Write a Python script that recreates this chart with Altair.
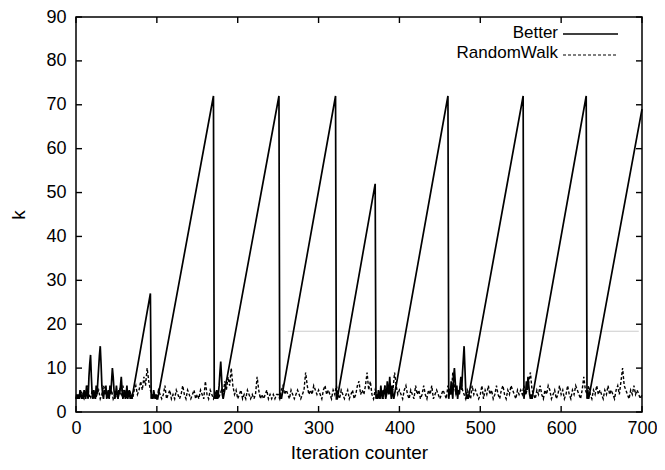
import altair as alt
import pandas as pd

# ---------------- data ----------------
series_names = ["Better", "RandomWalk"]

better_x = [
    0, 1, 2, 3, 4, 5, 6, 7, 8, 9, 10, 11, 12, 13, 14, 15, 16, 17, 18, 19,
    20, 21, 22, 23, 24, 25, 26, 27, 28, 29, 30, 31, 32, 33, 34, 35, 36, 37, 38, 39,
    40, 41, 42, 43, 44, 45, 46, 47, 48, 49, 50, 51, 52, 53, 54, 55, 56, 57, 58, 59,
    60, 61, 62, 63, 64, 65, 66, 67, 68, 69, 70,
    92, 93, 94, 95, 96, 97, 98, 99, 100, 101,
    170, 171, 172, 173, 174, 175, 176, 177, 178, 179, 180, 181, 182,
    251, 252, 253, 254,
    321, 322, 323,
    370, 371, 372, 373, 374, 375, 376, 377, 378, 379, 380, 381, 382, 383, 384, 385,
    386, 387, 388, 389, 390, 391, 392, 393,
    460, 461, 462, 463, 464, 465, 466, 467, 468, 469, 470, 471, 472, 473, 474, 475,
    476, 477, 478, 479, 480, 481, 482, 483, 484, 485,
    553, 554, 555, 556, 557, 558, 559, 560, 561, 562, 563, 564,
    631, 632, 633, 634,
    700,
]
better_k = [
    3, 4, 3, 4, 3, 5, 4, 3, 4, 3, 5, 4, 3, 6, 4, 3, 8, 11, 13, 8,
    4, 3, 5, 4, 3, 6, 4, 7, 10, 13, 15, 11, 6, 4, 3, 5, 4, 6, 3, 4,
    5, 3, 6, 4, 7, 10, 8, 5, 3, 4, 6, 4, 3, 5, 4, 6, 8, 5, 3, 4,
    5, 3, 4, 6, 3, 4, 5, 3, 4, 3, 4,
    27, 3, 4, 3, 5, 4, 3, 4, 3, 3,
    72, 3, 4, 3, 5, 3, 4, 6, 9, 11.5, 8, 4, 3,
    72, 3, 4, 3,
    72, 3, 3,
    52, 3, 4, 3, 5, 4, 3, 6, 4, 3, 5, 4, 6, 3, 4, 7,
    5, 4, 8, 5, 3, 6, 4, 3,
    72, 3, 5, 4, 7, 5, 3, 8, 10, 7, 4, 6, 3, 5, 4, 6,
    8, 5, 9, 12, 15, 10, 5, 3, 4, 3,
    72, 3, 5, 4, 7, 5, 8, 6, 4, 3, 4, 3,
    72, 3, 5, 3,
    69,
]

rw_x = list(range(0, 701, 2))
rw_k = [
    3, 4, 3, 5, 4, 3, 4, 6, 4, 3, 5, 4, 3, 4, 5, 3, 4, 6, 5, 4, 3, 4, 5, 3, 4,
    4, 3, 5, 4, 6, 4, 3, 4, 5, 4, 3, 5, 6, 4, 5, 7, 5, 8, 6, 10, 7, 5, 4, 3, 4,
    3, 5, 4, 3, 4, 6, 3, 4, 5, 3, 4, 3, 5, 4, 3, 4, 6, 4, 3, 5, 4, 3, 4, 5, 3,
    4, 3, 5, 4, 3, 7, 4, 3, 5, 4, 3, 4, 5, 3, 4, 5, 4, 7, 5, 8, 6, 10, 6, 4, 5,
    3, 4, 5, 3, 4, 3, 5, 4, 3, 4, 3, 4, 8, 5, 3, 4, 3, 4, 5, 3, 4, 3, 4, 3, 4,
    4, 3, 5, 6, 4, 5, 4, 3, 5, 4, 3, 4, 5, 4, 3, 4, 5, 9, 6, 4, 5, 4, 6, 5, 4,
    5, 4, 3, 5, 6, 4, 5, 4, 3, 5, 4, 6, 4, 3, 5, 4, 3, 4, 5, 3, 4, 5, 3, 4, 6,
    7, 4, 5, 4, 6, 9, 5, 7, 4, 3, 5, 4, 3, 4, 5, 3, 6, 4, 5, 4, 6, 5, 9, 6, 4,
    5, 4, 3, 5, 6, 4, 3, 5, 4, 3, 6, 4, 5, 3, 4, 6, 4, 3, 5, 4, 6, 3, 4, 5, 4,
    3, 4, 5, 4, 3, 6, 5, 4, 9, 6, 4, 5, 4, 7, 5, 4, 3, 5, 4, 3, 6, 4, 5, 4, 3,
    4, 6, 3, 5, 4, 6, 4, 5, 3, 4, 6, 4, 3, 5, 6, 4, 3, 5, 4, 6, 5, 4, 3, 5, 4,
    5, 4, 6, 4, 5, 7, 9, 5, 4, 3, 5, 4, 6, 4, 3, 5, 4, 6, 5, 3, 4, 5, 3, 4, 6,
    4, 5, 3, 4, 6, 4, 3, 5, 4, 6, 5, 4, 3, 5, 8, 5, 4, 6, 4, 3, 5, 4, 6, 4, 5,
    4, 3, 5, 4, 6, 4, 5, 4, 3, 5, 6, 4, 7, 10, 6, 5, 4, 3, 5, 4, 6, 4, 5, 4, 3,
    4,
]

gray_x = [262, 696]
gray_k = [18.4, 18.4]

x_ticks = [0, 100, 200, 300, 400, 500, 600, 700]
y_ticks = [0, 10, 20, 30, 40, 50, 60, 70, 80, 90]

# ---------------- layout ----------------
W, H = 566, 395
FONT = "Liberation Sans"
TICK = 6
FS = 18

xs = alt.Scale(domain=[0, 700], nice=False, zero=False)
ys = alt.Scale(domain=[0, 90], nice=False, zero=False)

better_df = pd.DataFrame({"x": better_x, "k": better_k})
rw_df = pd.DataFrame({"x": rw_x, "k": rw_k})
gray_df = pd.DataFrame({"x": gray_x, "k": gray_k})

x_axis = alt.Axis(title="Iteration counter", values=x_ticks, tickSize=0, domain=False,
                  grid=False, labelFontSize=FS, titleFontSize=FS + 1, labelFont=FONT,
                  titleFont=FONT, labelColor="black", titleColor="black",
                  titleFontWeight="normal", labelPadding=7, titlePadding=6,
                  labelFlush=False, labelOverlap=False)
y_axis = alt.Axis(title="k", values=y_ticks, tickSize=0, domain=False, grid=False,
                  labelFontSize=FS, titleFontSize=FS + 1, labelFont=FONT, titleFont=FONT,
                  labelColor="black", titleColor="black", titleFontWeight="normal",
                  labelPadding=10, titlePadding=17, labelFlush=False, labelOverlap=False)

X = alt.X("x:Q", scale=xs, axis=x_axis)
Y = alt.Y("k:Q", scale=ys, axis=y_axis)

gray = alt.Chart(gray_df).mark_line(color="#cccccc", strokeWidth=1).encode(x=X, y=Y)

rw_line = alt.Chart(rw_df).mark_line(color="black", strokeWidth=1.4,
                                     strokeDash=[3, 2]).encode(x=X, y=Y)

better_line = alt.Chart(better_df).mark_line(color="black", strokeWidth=1.7).encode(x=X, y=Y)

xt = pd.DataFrame({"x": x_ticks})
yt = pd.DataFrame({"k": y_ticks})
bottom_ticks = alt.Chart(xt).mark_rule(color="black", strokeWidth=1.4).encode(
    x=X, y=alt.value(H), y2=alt.value(H - TICK))
top_ticks = alt.Chart(xt).mark_rule(color="black", strokeWidth=1.4).encode(
    x=X, y=alt.value(0), y2=alt.value(TICK))
left_ticks = alt.Chart(yt).mark_rule(color="black", strokeWidth=1.4).encode(
    y=Y, x=alt.value(0), x2=alt.value(TICK))
right_ticks = alt.Chart(yt).mark_rule(color="black", strokeWidth=1.4).encode(
    y=Y, x=alt.value(W), x2=alt.value(W - TICK))

# legend (manual, inside top-right)
leg1 = pd.DataFrame({"name": [series_names[0]]})
leg2 = pd.DataFrame({"name": [series_names[1]]})
leg_text1 = alt.Chart(leg1).mark_text(align="right", baseline="middle", fontSize=17,
                                      font=FONT, color="black").encode(
    text="name:N", x=alt.value(482), y=alt.value(16))
leg_text2 = alt.Chart(leg2).mark_text(align="right", baseline="middle", fontSize=17,
                                      font=FONT, color="black").encode(
    text="name:N", x=alt.value(482), y=alt.value(36))
leg_line1 = alt.Chart(leg1).mark_rule(color="black", strokeWidth=1.5).encode(
    x=alt.value(487), x2=alt.value(542), y=alt.value(17))
leg_line2 = alt.Chart(leg2).mark_rule(color="black", strokeWidth=1.2, strokeDash=[3, 2]).encode(
    x=alt.value(487), x2=alt.value(542), y=alt.value(38))

chart = alt.layer(
    gray, rw_line, better_line,
    bottom_ticks, top_ticks, left_ticks, right_ticks,
    leg_text1, leg_text2, leg_line1, leg_line2,
).properties(
    width=W, height=H,
    padding={"left": 68, "top": 9, "right": 15, "bottom": 50},
    autosize=alt.AutoSizeParams(type="none"),
    background="white",
).configure_view(stroke="black", strokeWidth=1.5)

chart.save("out.html", embed_options={"renderer": "svg", "actions": False})
